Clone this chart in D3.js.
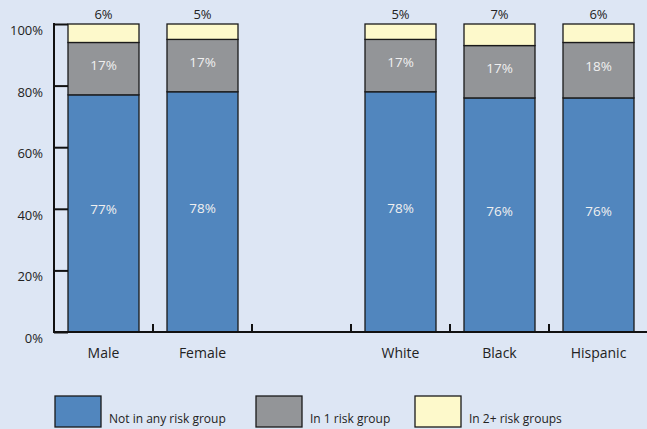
<!DOCTYPE html>
<html>
<head>
<meta charset="utf-8">
<script src="https://cdn.jsdelivr.net/npm/d3@7"></script>
<style>
  html, body { margin: 0; padding: 0; background: #dde6f4; }
  svg { display: block; }
  text { font-family: "Open Sans", sans-serif; }
</style>
</head>
<body>
<svg id="chart" width="647" height="429"></svg>
<script>
// Groups along the x axis; the empty slot separates sex from race/ethnicity
const categories = ["Male", "Female", "", "White", "Black", "Hispanic"];
const noRisk = [77, 78, null, 78, 76, 76];
const oneRisk = [17, 17, null, 17, 17, 18];
const twoPlusRisk = [6, 5, null, 5, 7, 6];
const seriesNames = ["Not in any risk group", "In 1 risk group", "In 2+ risk groups"];
const seriesColors = ["#5186be", "#939598", "#fdf9cb"];
const yTicks = [0, 20, 40, 60, 80, 100];

(function () {
const svg = d3.select("#chart");
const W = 647;
const plotLeft = 54, plotBottom = 332, plotTop = 24;

const x = d3.scaleBand()
  .domain(d3.range(categories.length))
  .range([plotLeft, plotLeft + 99 * 6])
  .paddingInner(28 / 99)
  .paddingOuter(14 / 99);
const y = d3.scaleLinear().domain([0, 100]).range([plotBottom, plotTop]);

const rows = categories.map((c, i) => ({
  i, name: c, a: noRisk[i], b: oneRisk[i], c: twoPlusRisk[i]
})).filter(d => d.a != null);

const layers = d3.stack().keys(["a", "b", "c"])(rows);

// Stacked bars
const g = svg.append("g");
layers.forEach((layer, k) => {
  g.selectAll(null).data(layer).enter().append("rect")
    .attr("x", d => x(d.data.i))
    .attr("width", x.bandwidth())
    .attr("y", d => y(d[1]))
    .attr("height", d => y(d[0]) - y(d[1]))
    .attr("fill", seriesColors[k])
    .attr("stroke", "#1a1a1a")
    .attr("stroke-width", 1.3);
});

// Values inside the bottom two segments
layers.slice(0, 2).forEach(layer => {
  g.selectAll(null).data(layer).enter().append("text")
    .attr("x", d => x(d.data.i) + x.bandwidth() / 2)
    .attr("y", d => (y(d[0]) + y(d[1])) / 2 + 1)
    .attr("text-anchor", "middle")
    .attr("font-size", 13.5)
    .attr("fill", "#f0f0f0")
    .text(d => (d[1] - d[0]) + "%");
});
// Values above the top segment
g.selectAll(null).data(layers[2]).enter().append("text")
  .attr("x", d => x(d.data.i) + x.bandwidth() / 2)
  .attr("y", y(100) - 5)
  .attr("text-anchor", "middle")
  .attr("font-size", 13)
  .attr("fill", "#222")
  .text(d => (d[1] - d[0]) + "%");

// Y axis with ticks pointing into the plot
const yAxis = svg.append("g").attr("transform", `translate(${plotLeft},0)`)
  .call(d3.axisRight(y).tickValues(yTicks).tickSize(14).tickFormat(""));
yAxis.select(".domain").remove();
yAxis.selectAll(".tick line").attr("stroke", "#111").attr("stroke-width", 2);
svg.append("line").attr("x1", plotLeft).attr("x2", plotLeft).attr("y1", y(100) - 1).attr("y2", plotBottom + 1)
  .attr("stroke", "#111").attr("stroke-width", 2);
svg.selectAll(null).data(yTicks).enter().append("text")
  .attr("x", 43).attr("y", d => y(d) + 11)
  .attr("text-anchor", "end")
  .attr("font-size", 13)
  .attr("fill", "#222")
  .text(d => d + "%");

// X axis baseline and separator ticks between slots
svg.append("line").attr("x1", plotLeft).attr("x2", W).attr("y1", plotBottom).attr("y2", plotBottom)
  .attr("stroke", "#111").attr("stroke-width", 2);
const seps = d3.range(1, categories.length).map(i => x(i) - x.step() * x.paddingInner() / 2);
svg.selectAll(null).data(seps).enter().append("line")
  .attr("x1", d => d).attr("x2", d => d).attr("y1", plotBottom).attr("y2", plotBottom - 8)
  .attr("stroke", "#111").attr("stroke-width", 2);
svg.selectAll(null).data(rows).enter().append("text")
  .attr("x", d => x(d.i) + x.bandwidth() / 2)
  .attr("y", 358)
  .attr("text-anchor", "middle")
  .attr("font-size", 14)
  .attr("fill", "#222")
  .text(d => d.name);

// Legend
const legendX = [55, 256, 415];
const lg = svg.selectAll(null).data(seriesNames).enter().append("g")
  .attr("transform", (d, i) => `translate(${legendX[i]},396)`);
lg.append("rect").attr("width", 46).attr("height", 31)
  .attr("fill", (d, i) => seriesColors[i]).attr("stroke", "#1a1a1a").attr("stroke-width", 1.3);
lg.append("text").attr("x", 54).attr("y", 26.5)
  .attr("font-size", 12).attr("fill", "#222")
  .text(d => d);
})();
</script>
</body>
</html>
